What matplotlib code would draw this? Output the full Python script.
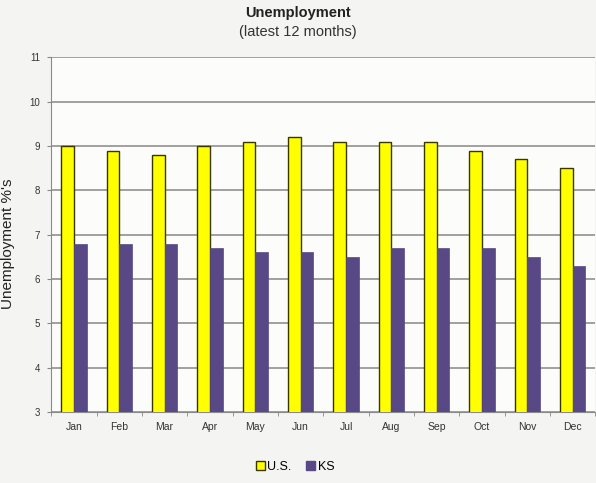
import matplotlib
matplotlib.use("Agg")
import matplotlib.pyplot as plt
import numpy as np
from matplotlib.patches import Patch

months = ["Jan", "Feb", "Mar", "Apr", "May", "Jun", "Jul", "Aug", "Sep", "Oct", "Nov", "Dec"]
us_rate = [9.0, 8.9, 8.8, 9.0, 9.1, 9.2, 9.1, 9.1, 9.1, 8.9, 8.7, 8.5]
ks_rate = [6.8, 6.8, 6.8, 6.7, 6.6, 6.6, 6.5, 6.7, 6.7, 6.7, 6.5, 6.3]
y_ticks = [3, 4, 5, 6, 7, 8, 9, 10, 11]

plt.rcParams["font.family"] = ["Liberation Sans", "DejaVu Sans"]

fig = plt.figure(figsize=(5.96, 4.83), dpi=100, facecolor="#f4f4f2")
ax = fig.add_axes([0.086, 0.147, 0.913, 0.734])
ax.set_facecolor("#fcfcfb")

x = np.arange(len(months))
w = 0.28
ax.bar(x - w / 2, us_rate, width=w, color="#ffff00", edgecolor="#3a3600",
       linewidth=1.0, zorder=3, label="U.S.")
ax.bar(x + w / 2, ks_rate, width=w, color="#584885", edgecolor="#584885",
       linewidth=0.5, zorder=3, label="KS")

ax.set_ylim(3, 11)
ax.set_xlim(-0.5, len(months) - 0.5)
ax.set_yticks(y_ticks)
ax.set_yticklabels([str(t) for t in y_ticks], fontsize=7, color="#333333")
ax.set_xticks(x)
ax.set_xticklabels(months, fontsize=7.5, color="#333333")
ax.set_xticks(np.arange(-0.5, len(months), 1.0), minor=True)
ax.tick_params(axis="x", which="major", length=0, pad=7)
ax.tick_params(axis="x", which="minor", length=3, color="#888888")
ax.tick_params(axis="y", length=3, color="#888888", pad=5)

ax.yaxis.grid(True, color="#a0a0a0", linewidth=1.4, zorder=0)
for side in ["top", "right"]:
    ax.spines[side].set_visible(False)
ax.spines["left"].set_color("#8a8a8a")
ax.spines["bottom"].set_color("#8a8a8a")

ax.set_ylabel("Unemployment %'s", fontsize=11, color="#222222")
ax.yaxis.set_label_coords(-0.066, 0.475)

fig.text(0.5, 0.973, "Unemployment", ha="center", va="center",
         fontsize=10.5, fontweight="bold", color="#222222")
fig.text(0.5, 0.934, "(latest 12 months)", ha="center", va="center",
         fontsize=10.5, color="#333333")

handles = [Patch(facecolor="#ffff00", edgecolor="#3a3600", linewidth=1.0),
           Patch(facecolor="#584885", edgecolor="#584885")]
fig.legend(handles, ["U.S.", "KS"], loc="center", bbox_to_anchor=(0.495, 0.033),
           ncol=2, frameon=False, fontsize=9, handlelength=0.7, handleheight=0.7,
           handletextpad=0.2, columnspacing=1.2)

fig.savefig("out.png", dpi=100, facecolor=fig.get_facecolor())
